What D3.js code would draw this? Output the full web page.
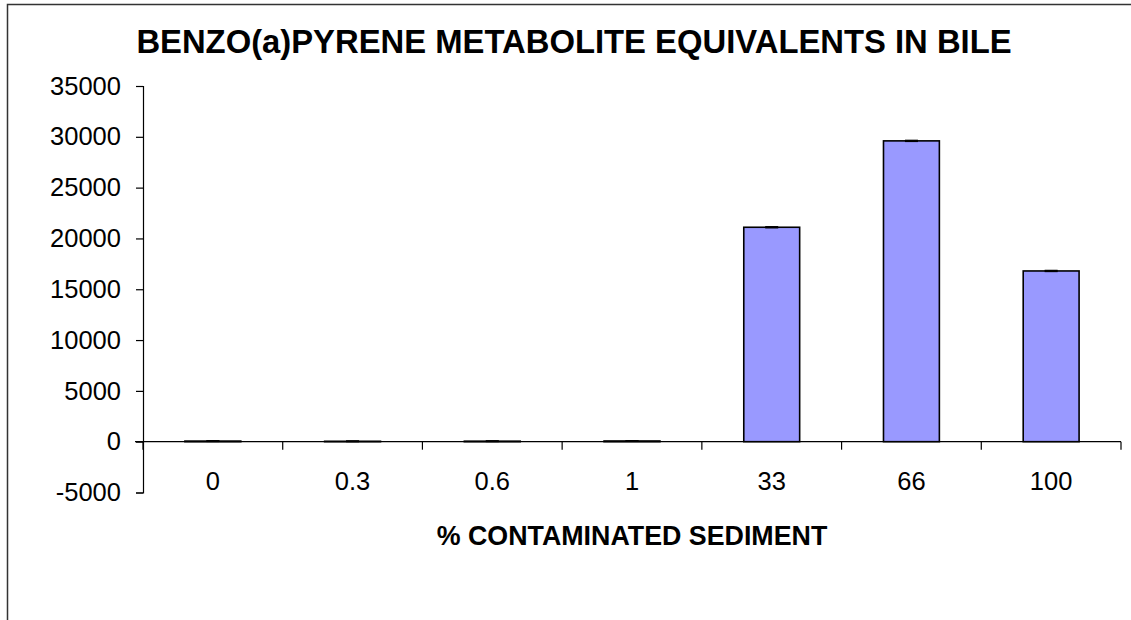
<!DOCTYPE html>
<html>
<head>
<meta charset="utf-8">
<script src="https://cdn.jsdelivr.net/npm/d3@7"></script>
<style>
  body { margin: 0; background: #fff; }
  svg { display: block; font-family: "Liberation Sans", Arial, sans-serif; }
</style>
</head>
<body>
<svg id="chart" width="1131" height="620"></svg>
<script>
const categories = ["0", "0.3", "0.6", "1", "33", "66", "100"];
const values = [60, 40, 50, 70, 21100, 29600, 16800];
const errors = [20, 20, 20, 20, 40, 40, 40];
const yTicks = [-5000, 0, 5000, 10000, 15000, 20000, 25000, 30000, 35000];

(function () {
const svg = d3.select("#chart");

// outer frame
svg.append("rect")
  .attr("x", 7.5).attr("y", 4.5)
  .attr("width", 1140).attr("height", 700)
  .attr("fill", "none").attr("stroke", "#333").attr("stroke-width", 1.5);

const pLeft = 143, pRight = 1121, pTop = 86, pBottom = 492.5;

const x = d3.scaleBand().domain(categories).range([pLeft, pRight]).paddingInner(0).paddingOuter(0);
const y = d3.scaleLinear().domain([-5000, 35000]).range([pBottom, pTop]);

// title
svg.append("text")
  .attr("x", 574).attr("y", 53)
  .attr("text-anchor", "middle")
  .attr("font-weight", "bold").attr("font-size", "32.8px")
  .text("BENZO(a)PYRENE METABOLITE EQUIVALENTS IN BILE");

// y axis
const yAxis = d3.axisLeft(y).tickValues(yTicks).tickSize(7).tickPadding(15).tickFormat(d => String(d));
const gy = svg.append("g").attr("transform", `translate(${pLeft},0)`).call(yAxis);
gy.select(".domain").attr("stroke", "#000").attr("stroke-width", 1.2);
gy.selectAll(".tick line").attr("stroke", "#000").attr("stroke-width", 1.2);
gy.selectAll(".tick text").attr("font-size", "25.5px").attr("fill", "#000")
  .attr("font-family", "Liberation Sans, Arial, sans-serif");

// bars
const bw = x.bandwidth() * 0.4;
svg.append("g").selectAll("rect").data(values).join("rect")
  .attr("x", (d, i) => x(categories[i]) + (x.bandwidth() - bw) / 2)
  .attr("y", d => y(Math.max(d, 0)))
  .attr("width", bw)
  .attr("height", d => Math.abs(y(d) - y(0)))
  .attr("fill", "#9999FF")
  .attr("stroke", "#000").attr("stroke-width", 1.6);

// error bars
const eg = svg.append("g").attr("stroke", "#000").attr("stroke-width", 1.6);
values.forEach((v, i) => {
  const cx = x(categories[i]) + x.bandwidth() / 2;
  eg.append("line").attr("x1", cx).attr("x2", cx).attr("y1", y(v + errors[i])).attr("y2", y(v - errors[i]));
  eg.append("line").attr("x1", cx - 6.5).attr("x2", cx + 6.5).attr("y1", y(v + errors[i])).attr("y2", y(v + errors[i]));
  eg.append("line").attr("x1", cx - 6.5).attr("x2", cx + 6.5).attr("y1", y(v - errors[i])).attr("y2", y(v - errors[i]));
});

// x axis at zero
const gx = svg.append("g").attr("transform", `translate(0,${y(0)})`);
gx.append("line").attr("x1", 135).attr("x2", pRight).attr("y1", 0).attr("y2", 0)
  .attr("stroke", "#000").attr("stroke-width", 1.2);
const boundaries = categories.map(c => x(c)).concat([pRight]);
gx.selectAll("line.tk").data(boundaries).join("line").attr("class", "tk")
  .attr("x1", d => d).attr("x2", d => d).attr("y1", 0).attr("y2", 8)
  .attr("stroke", "#000").attr("stroke-width", 1.2);
gx.selectAll("text").data(categories).join("text")
  .attr("x", d => x(d) + x.bandwidth() / 2)
  .attr("y", 490 - y(0))
  .attr("text-anchor", "middle")
  .attr("font-size", "25.5px")
  .text(d => d);

// x label
svg.append("text")
  .attr("x", (pLeft + pRight) / 2).attr("y", 545)
  .attr("text-anchor", "middle")
  .attr("font-weight", "bold").attr("font-size", "26.8px")
  .text("% CONTAMINATED SEDIMENT");
})();
</script>
</body>
</html>
